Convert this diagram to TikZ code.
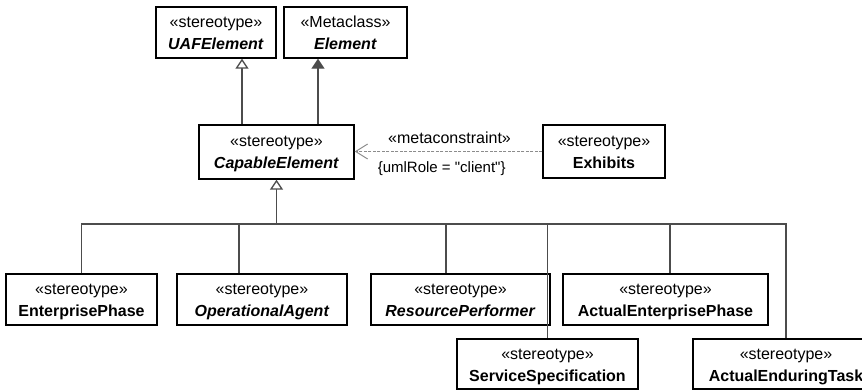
\documentclass[tikz,border=0pt]{standalone}
\usepackage{fontspec}
\setmainfont{Liberation Sans}[Ligatures=TeXOff]
\usetikzlibrary{arrows.meta}
\newcommand\topstr{\rule{0pt}{20pt}}
\newcommand\botstr{\rule[-8pt]{0pt}{8pt}}
\newcommand\bi[1]{\textbf{\textit{#1}}}
\begin{document}
\begin{tikzpicture}[x=1pt,y=-1pt,
  box/.style={draw=black, line width=1.4pt, fill=white, inner sep=0pt, align=center,
    font=\fontsize{16}{22}\selectfont},
  conn/.style={draw=black!70, line width=1.3pt},
  gen/.style={conn, -{Triangle[open, length=10pt, width=13pt, fill=white]}},
  genf/.style={conn, -{Triangle[length=10pt, width=13pt]}},
  dep/.style={draw=black!45, line width=1pt, dash pattern=on 3pt off 1.5pt,
    -{Straight Barb[length=12pt, width=15pt]}},
  lab/.style={font=\fontsize{16}{19}\selectfont, inner sep=0pt, anchor=base}
]
\useasboundingbox (0,0) rectangle (862,390);
\clip (0,0) rectangle (862,390);

% boxes
\node[box, minimum width=120pt, minimum height=51pt] (uaf) at (216,32.5)
  {\topstr«stereotype»\\\botstr\bi{UAFElement}};
\node[box, minimum width=123pt, minimum height=51pt] (elem) at (345.5,32.5)
  {\topstr«Metaclass»\\\botstr\bi{Element}};
\node[box, minimum width=155pt, minimum height=54pt] (cap) at (276.5,152)
  {\topstr«stereotype»\\\botstr\bi{CapableElement}};
\node[box, minimum width=122pt, minimum height=53pt] (exh) at (604,151.5)
  {\topstr«stereotype»\\\botstr\textbf{Exhibits}};

\node[box, minimum width=151pt, minimum height=51pt] (ep) at (81.5,299.5)
  {\topstr«stereotype»\\\botstr\textbf{EnterprisePhase}};
\node[box, minimum width=170pt, minimum height=51pt] (oa) at (262,299.5)
  {\topstr«stereotype»\\\botstr\bi{OperationalAgent}};
\node[box, minimum width=179pt, minimum height=51pt] (rp) at (460.5,299.5)
  {\topstr«stereotype»\\\botstr\bi{ResourcePerformer}};
\node[box, minimum width=205pt, minimum height=51pt] (aep) at (665.5,299.5)
  {\topstr«stereotype»\\\botstr\textbf{ActualEnterprisePhase}};
\node[box, minimum width=181pt, minimum height=50pt] (ss) at (547.5,364)
  {\topstr«stereotype»\\\botstr\textbf{ServiceSpecification}};
\node[box, minimum width=186pt, minimum height=50pt] (aet) at (786,364)
  {\topstr«stereotype»\\\botstr\textbf{ActualEnduringTask}};

% helper coordinates
\coordinate (g1) at (242,0);
\coordinate (g2) at (318,0);
\coordinate (busM) at (276.5,224);
\coordinate (j2) at (239,224);
\coordinate (j3) at (446,224);
\coordinate (j5) at (670,224);

% generalizations to top
\draw[gen] (g1 |- cap.north) -- (g1 |- uaf.south);
\draw[genf] (g2 |- cap.north) -- (g2 |- elem.south);

% bus
\draw[conn] (ep.north) |- (aet.north |- busM) -- (aet.north);
\draw[conn] (j2) -- (j2 |- oa.north);
\draw[conn] (j3) -- (j3 |- rp.north);
\draw[conn] (ss.north |- busM) -- (ss.north);
\draw[conn] (j5) -- (j5 |- aep.north);
\draw[gen] (busM) -- (cap.south);

% dependency
\draw[dep] (exh.west) -- (exh.west -| cap.east);
\node[lab] (mc) at (449.5,143.3) {«metaconstraint»};
\node[lab, font=\fontsize{15}{18}\selectfont] (ur) at (441.7,172.7) {\{umlRole = "client"\}};
\end{tikzpicture}
\end{document}
